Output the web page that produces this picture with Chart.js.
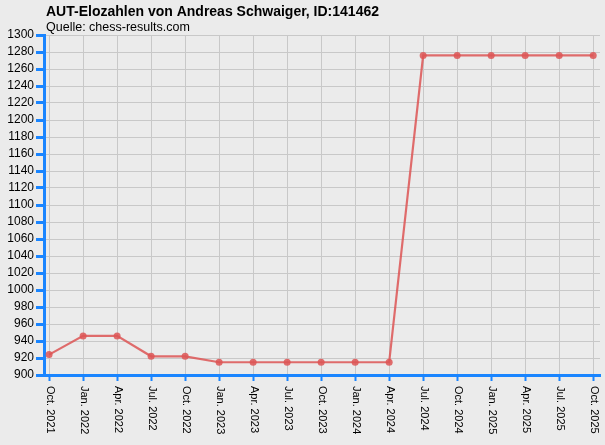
<!DOCTYPE html>
<html>
<head>
<meta charset="utf-8">
<script src="https://cdn.jsdelivr.net/npm/chart.js@4/dist/chart.umd.min.js"></script>
<style>
  html, body { margin: 0; padding: 0; background: #ebebeb; }
  #wrap { width: 605px; height: 445px; position: relative; }
</style>
</head>
<body>
<div id="wrap"><canvas id="elo-chart"></canvas></div>
<script>
var chartTitle = 'AUT-Elozahlen von Andreas Schwaiger, ID:141462';
var chartSource = 'Quelle: chess-results.com';

var periods = ['Oct. 2021', 'Jan. 2022', 'Apr. 2022', 'Jul. 2022', 'Oct. 2022', 'Jan. 2023',
    'Apr. 2023', 'Jul. 2023', 'Oct. 2023', 'Jan. 2024', 'Apr. 2024', 'Jul. 2024',
    'Oct. 2024', 'Jan. 2025', 'Apr. 2025', 'Jul. 2025', 'Oct. 2025'];
var eloValues = [924, 946, 946, 922, 922, 915, 915, 915, 915, 915, 915, 1276,
    1276, 1276, 1276, 1276, 1276];

var yMin = 900, yMax = 1300, yStep = 20;

var axisBlue = '#1a85ff';
var gridGrey = '#c8c8c8';
var lineRed = 'rgba(221, 85, 85, 0.85)';

// x labels are drawn rotated clockwise, chart.js only rotates the other way
var textPlugin = {
    id: 'textPlugin',
    afterDraw: function (chart) {
        var ctx = chart.ctx;
        var area = chart.chartArea;
        var xs = chart.scales.x;
        ctx.save();
        ctx.fillStyle = '#000';
        ctx.textAlign = 'left';
        ctx.textBaseline = 'alphabetic';
        ctx.font = 'bold 14px "Liberation Sans", Arial, sans-serif';
        ctx.fillText(chartTitle, area.left + 2, 16);
        ctx.font = '12.5px "Liberation Sans", Arial, sans-serif';
        ctx.fillText(chartSource, area.left + 2, 31);

        ctx.font = '11px "Liberation Sans", Arial, sans-serif';
        ctx.textBaseline = 'middle';
        for (var i = 0; i < periods.length; i++) {
            var px = xs.getPixelForValue(i);
            ctx.save();
            ctx.translate(px + 0.5, area.bottom + 11);
            ctx.rotate(Math.PI / 2);
            ctx.fillText(periods[i], 0, 0);
            ctx.restore();
        }
        ctx.restore();
    }
};

var bgPlugin = {
    id: 'bgPlugin',
    beforeDraw: function (chart) {
        var ctx = chart.ctx;
        ctx.save();
        ctx.fillStyle = '#ebebeb';
        ctx.fillRect(0, 0, chart.width, chart.height);
        ctx.restore();
    }
};

var ctx = document.getElementById('elo-chart').getContext('2d');
var eloChart = new Chart(ctx, {
    type: 'line',
    data: {
        datasets: [{
            label: 'Elo',
            data: eloValues.map(function (v, i) { return { x: i, y: v }; }),
            borderColor: lineRed,
            backgroundColor: lineRed,
            borderWidth: 2.2,
            pointRadius: 3.5,
            pointBorderWidth: 0,
            tension: 0
        }]
    },
    options: {
        responsive: true,
        maintainAspectRatio: false,
        animation: false,
        layout: { padding: { top: 35, right: 5, left: 0, bottom: 0 } },
        plugins: {
            legend: { display: false },
            title: { display: false },
            tooltip: { enabled: false }
        },
        scales: {
            x: {
                type: 'linear',
                min: -0.15,
                max: 16.2,
                afterBuildTicks: function (scale) {
                    scale.ticks = periods.map(function (p, i) { return { value: i }; });
                },
                afterFit: function (scale) { scale.height = 70; },
                ticks: { display: false },
                grid: {
                    color: gridGrey,
                    lineWidth: 1,
                    drawTicks: true,
                    tickLength: 6,
                    tickColor: axisBlue,
                    tickWidth: 2
                },
                border: { color: axisBlue, width: 3 }
            },
            y: {
                min: yMin,
                max: yMax,
                afterFit: function (scale) { scale.width = 44; },
                ticks: {
                    stepSize: yStep,
                    autoSkip: false,
                    maxTicksLimit: 50,
                    color: '#000',
                    padding: 2,
                    font: { family: '"Liberation Sans", Arial, sans-serif', size: 12 },
                    callback: function (v) { return String(v); }
                },
                grid: {
                    color: gridGrey,
                    lineWidth: 1,
                    drawTicks: true,
                    tickLength: 8,
                    tickColor: axisBlue,
                    tickWidth: 3
                },
                border: { color: axisBlue, width: 3 }
            }
        }
    },
    plugins: [bgPlugin, textPlugin]
});
</script>
</body>
</html>
